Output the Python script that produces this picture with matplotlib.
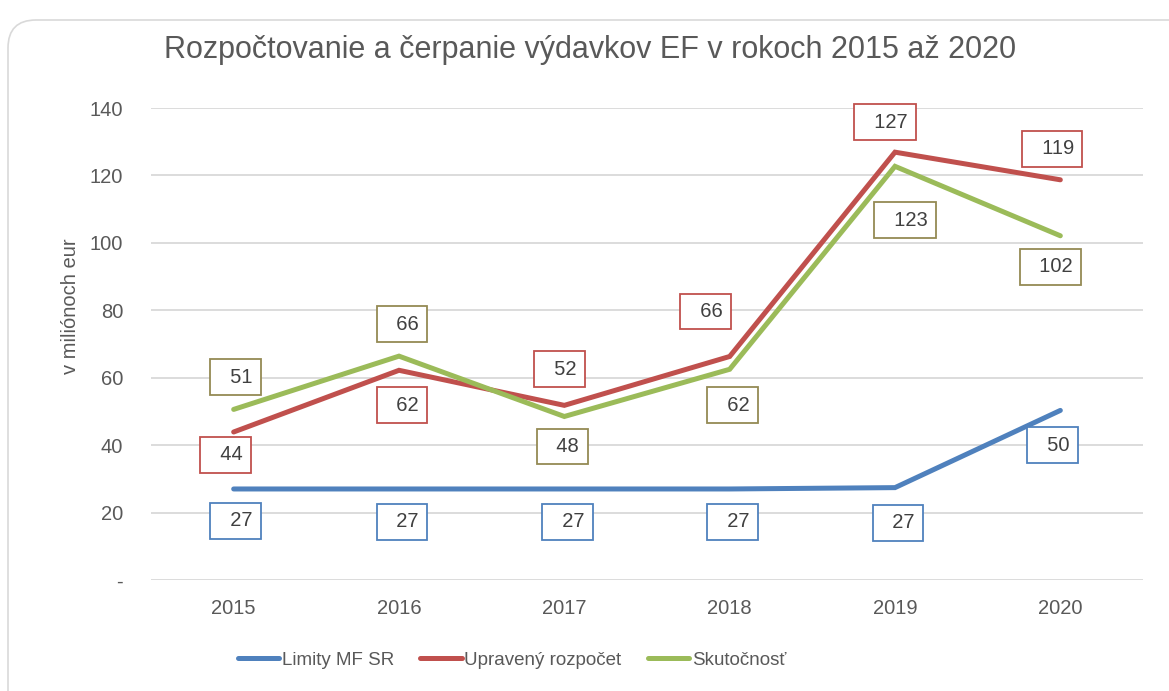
import matplotlib.pyplot as plt
from matplotlib.patches import FancyBboxPatch
from matplotlib.transforms import IdentityTransform

plt.rcParams['font.family'] = ['Liberation Sans', 'DejaVu Sans']

years = ['2015', '2016', '2017', '2018', '2019', '2020']
limity = [27, 27, 27, 27, 27.4, 50.3]
upraveny = [43.9, 62.2, 51.8, 66.3, 126.9, 118.7]
skutocnost = [50.6, 66.4, 48.5, 62.5, 122.7, 102.1]

series_names = ['Limity MF SR', 'Upravený rozpočet', 'Skutočnosť']
line_colors = ['#4F81BD', '#C0504D', '#9BBB59']
box_colors = ['#4F81BD', '#C0504D', '#948A54']

# label box offsets in pixels (dx, dy) from the point, y up
label_offsets = [
    [(2, -32), (3, -33), (3, -33), (3, -33), (3, -35), (-8, -35)],
    [(-8, -23), (3, -35), (-5, 36), (-24, 45), (-10, 30), (-8, 31)],
    [(2, 32), (3, 32), (-2, -30), (3, -36), (10, -54), (-10, -31)],
]

text_col = '#595959'

fig = plt.figure(figsize=(11.69, 6.91), dpi=100)
# rounded outer frame, in pixels (origin bottom left)
frame = FancyBboxPatch((8, -30), 1200, 691 - 20 + 30,
                       boxstyle='round,pad=0,rounding_size=28',
                       transform=IdentityTransform(), facecolor='white',
                       edgecolor='#D9D9D9', linewidth=1.2, zorder=-5)
fig.patches.append(frame)

ax = fig.add_axes([151 / 1169, 1 - 580 / 691, (1143 - 151) / 1169, (580 - 108) / 691])
ax.set_zorder(2)
ax.set_facecolor('none')

x = list(range(len(years)))
all_series = [limity, upraveny, skutocnost]
for vals, name, col in zip(all_series, series_names, line_colors):
    ax.plot(x, vals, color=col, linewidth=3.6, solid_capstyle='round',
            solid_joinstyle='miter', label=name, zorder=3)

for vals, bcol, offs in zip(all_series, box_colors, label_offsets):
    for xi, v, (dx, dy) in zip(x, vals, offs):
        ax.annotate('  %d' % round(v), (xi, v), xytext=(dx, dy),
                    textcoords='offset pixels', ha='center', va='center',
                    fontsize=14.5, color='#404040', zorder=4,
                    bbox=dict(boxstyle='square,pad=0.42', facecolor='white',
                              edgecolor=bcol, linewidth=1.3))

ax.set_xlim(-0.5, 5.5)
ax.set_ylim(0, 140)
ax.set_yticks(range(0, 141, 20))
ax.set_yticklabels(['-'] + [str(v) for v in range(20, 141, 20)])
ax.set_xticks(x)
ax.set_xticklabels(years)
ax.tick_params(length=0, labelsize=14.5, colors=text_col)
ax.tick_params(axis='y', pad=20)
ax.tick_params(axis='x', pad=14)
ax.grid(axis='y', color='#D9D9D9', linewidth=1.3)
ax.set_axisbelow(True)
for s in ax.spines.values():
    s.set_visible(False)

ax.set_ylabel('v miliónoch eur', fontsize=14.5, color=text_col)
ax.yaxis.set_label_coords(-0.072, 0.58)

fig.text(590 / 1169, 1 - 50 / 691, 'Rozpočtovanie a čerpanie výdavkov EF v rokoch 2015 až 2020',
         ha='center', va='center', fontsize=22, color=text_col)

fig.legend(loc='center', bbox_to_anchor=(512 / 1169, 1 - 660 / 691), ncol=3,
           frameon=False, fontsize=13.5, labelcolor=text_col, handlelength=2.2,
           handletextpad=0.15, columnspacing=1.4)

fig.savefig('out.png', dpi=100)
